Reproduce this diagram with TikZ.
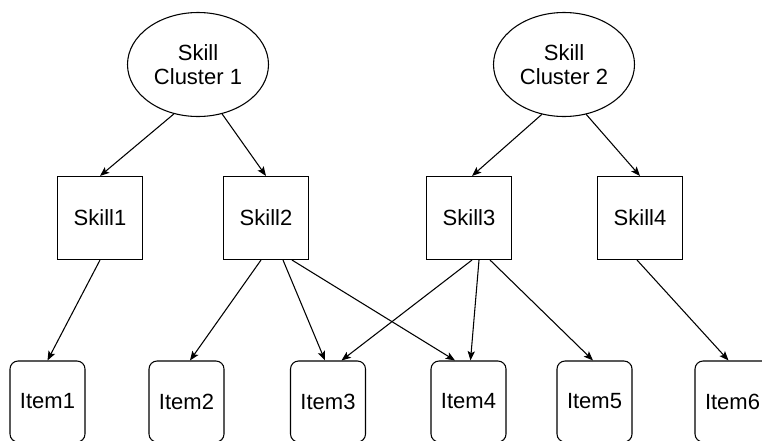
\documentclass[tikz,border=0pt]{standalone}
\usepackage{fontspec}
\setmainfont{Liberation Sans}
\usetikzlibrary{shapes.geometric, arrows.meta, calc}
\begin{document}
\begin{tikzpicture}[
            x=0.75pt, y=-0.75pt,
            clusterNode/.style={ellipse, draw, line width=0.8pt, minimum width=105.75pt,
            minimum height=78pt, inner sep=0pt, align=center, font=\fontsize{16.5}{18}\selectfont},
            skillNode/.style={rectangle, draw, line width=0.8pt, minimum width=63.75pt,
            minimum height=62.25pt, font=\fontsize{16.5}{18}\selectfont},
            itemNode/.style={rectangle, rounded corners=6pt, draw, line width=0.8pt,
            minimum width=56.25pt, minimum height=60.75pt, font=\fontsize{16.5}{18}\selectfont},
            arrow/.style={line width=0.8pt, -{Stealth[length=7pt, width=5.5pt, inset=1.5pt]}},
        ]
        \useasboundingbox (0,0) rectangle (762,440);
        \clip (0,0) rectangle (762,440);
        % skill clusters
        \node[clusterNode] (cluster1) at (198,64.5) {Skill\\Cluster 1};
        \node[clusterNode] (cluster2) at (564,64.5) {Skill\\Cluster 2};
        % skills
        \node[skillNode] (skill1) at (100,218) {Skill1};
        \node[skillNode] (skill2) at (266,218) {Skill2};
        \node[skillNode] (skill3) at (469,218) {Skill3};
        \node[skillNode] (skill4) at (640,218) {Skill4};
        % items
        \node[itemNode] (item1) at (47.5,401.5) {Item1};
        \node[itemNode] (item2) at (186.5,401.5) {Item2};
        \node[itemNode] (item3) at (328,401.5) {Item3};
        \node[itemNode] (item4) at (468.5,401.5) {Item4};
        \node[itemNode] (item5) at (594.5,401.5) {Item5};
        \node[itemNode] (item6) at (732.5,401.5) {Item6};
        % cluster -> skill
        \draw[arrow] (cluster1.244) -- (skill1.north);
        \draw[arrow] (cluster1.296) -- (skill2.north);
        \draw[arrow] (cluster2.246) -- ($(skill3.north)+(3,0)$);
        \draw[arrow] (cluster2.294) -- (skill4.north);
        % skill -> item
        \draw[arrow] (skill1.south) -- (item1.north);
        \draw[arrow] ($(skill2.south)+(-5,0)$) -- ($(item2.north)+(3.5,0)$);
        \draw[arrow] ($(skill2.south)+(17,0)$) -- ($(item3.north)+(-3,0)$);
        \draw[arrow] ($(skill2.south)+(26,0)$) -- ($(item4.north)+(-13.5,0)$);
        \draw[arrow] ($(skill3.south)+(3,0)$) -- ($(item3.north)+(13.5,0)$);
        \draw[arrow] ($(skill3.south)+(10,0)$) -- ($(item4.north)+(2,0)$);
        \draw[arrow] ($(skill3.south)+(21,0)$) -- ($(item5.north)+(-1.5,0)$);
        \draw[arrow] ($(skill4.south)+(-3,0)$) -- ($(item6.north)+(-4,0)$);
\end{tikzpicture}
\end{document}
